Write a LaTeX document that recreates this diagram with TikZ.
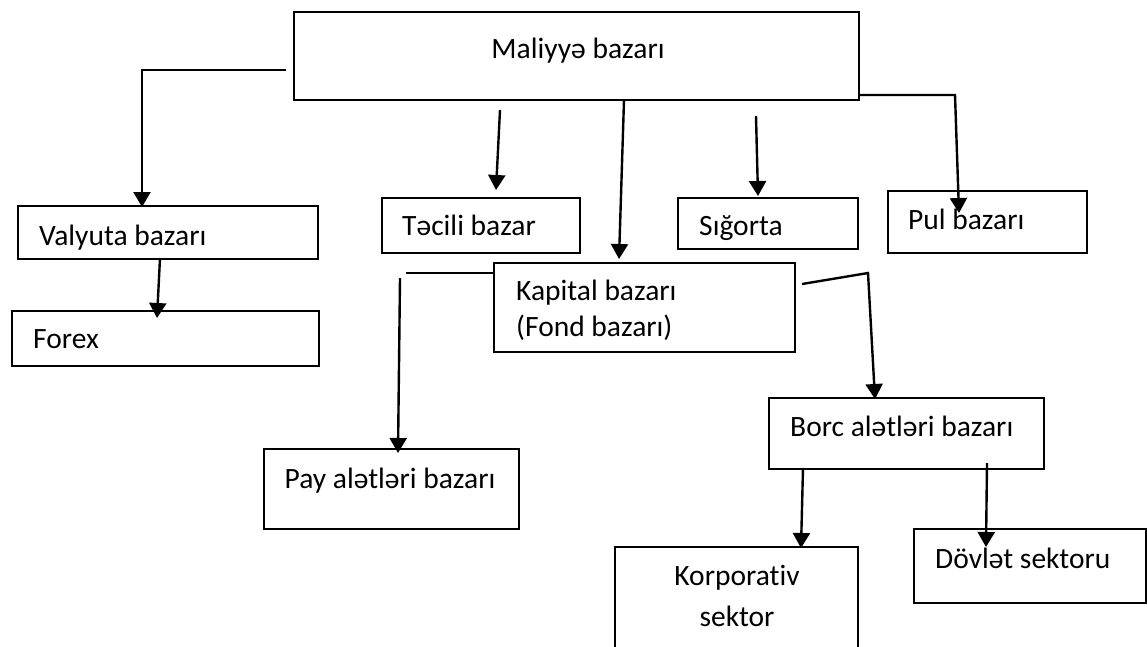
\documentclass[tikz,border=0pt]{standalone}
\usepackage{fontspec}
\setmainfont[Ligatures=NoCommon]{Carlito}
\usepackage{tikz}
\usetikzlibrary{arrows.meta}

\begin{document}
\begin{tikzpicture}[x=1pt,y=-1pt,
  mybox/.style={draw,line width=2pt,inner sep=0pt,anchor=north west},
  mytext/.style={font=\fontsize{29.5}{35}\selectfont,inner sep=0pt},
  myline/.style={line width=2.2pt},
  myarrow/.style={line width=2.4pt,-{Triangle[length=15pt,width=17pt]}}]
\useasboundingbox (0,0) rectangle (1147,646);
\clip (0,0) rectangle (1147,646);
  % boxes
  \foreach \nm/\xx/\yy/\ww/\hh in {maliyye/293/11/565/88,valyuta/17/205/300/53,forex/11/310/307/55,
    tecili/381/197/198/55,sigorta/677/197/180/51,pul/887/190/199/62,kapital/493/262/301/89,
    borc/768/397/275/71,pay/263/448/255/80,korporativ/614/546/243/140,dovlet/913/528/232/74}
  {  \node [mybox,minimum width=\ww pt,minimum height=\hh pt] (\nm) at (\xx,\yy) {};}
  % texts
  \node [mytext,anchor=base] (maliyyeT) at (578,58) {Maliyyə bazarı};
  \node [mytext,anchor=base west] (valyutaT) at (39,245) {Valyuta bazarı};
  \node [mytext,anchor=base west] (forexT) at (33,348) {Forex};
  \node [mytext,anchor=base west] (teciliT) at (402,235) {Təcili bazar};
  \node [mytext,anchor=base west] (sigortaT) at (699,235) {Sığorta};
  \node [mytext,anchor=base west] (pulT) at (908,229) {Pul bazarı};
  \node [mytext,anchor=base west] (kapitalT) at (516,300) {Kapital bazarı};
  \node [mytext,anchor=base west] (fondT) at (516,336) {(Fond bazarı)};
  \node [mytext,anchor=base west] (borcT) at (790,436) {Borc alətləri bazarı};
  \node [mytext,anchor=base] (payT) at (390,488) {Pay alətləri bazarı};
  \node [mytext,anchor=base] (korpT) at (737,585) {Korporativ};
  \node [mytext,anchor=base] (sektorT) at (737,626) {sektor};
  \node [mytext,anchor=base west] (dovletT) at (935,568) {Dövlət sektoru};
  % connector ends
  \foreach \nm/\xx/\yy in {v1/286/70,v2/142/207,f1/160/258,f2/157/318,t1/500/110,t2/496/190,
    k1/624/100,k2/619/259,s1/756/116,s2/758/196,p1/858/95,p2/955/95,p3/959/213,
    a1/493/273,a2/406/273,a3/400/278,a4/398/453,b1/802/284,b2/868/273,b3/875/399,
    c1/803/468,c2/801/548,d1/987/463,d2/986/547}
  {  \coordinate (\nm) at (\xx,\yy);}
  \draw [myarrow] (v1) -| (v2);
  \draw [myarrow] (f1) -- (f2);
  \draw [myarrow] (t1) -- (t2);
  \draw [myarrow] (k1) -- (k2);
  \draw [myarrow] (s1) -- (s2);
  \draw [myarrow] (p1) -- (p2) -- (p3);
  \draw [myline] (a1) -- (a2);
  \draw [myarrow] (a3) -- (a4);
  \draw [myarrow] (b1) -- (b2) -- (b3);
  \draw [myarrow] (c1) -- (c2);
  \draw [myarrow] (d1) -- (d2);
\end{tikzpicture}
\end{document}
